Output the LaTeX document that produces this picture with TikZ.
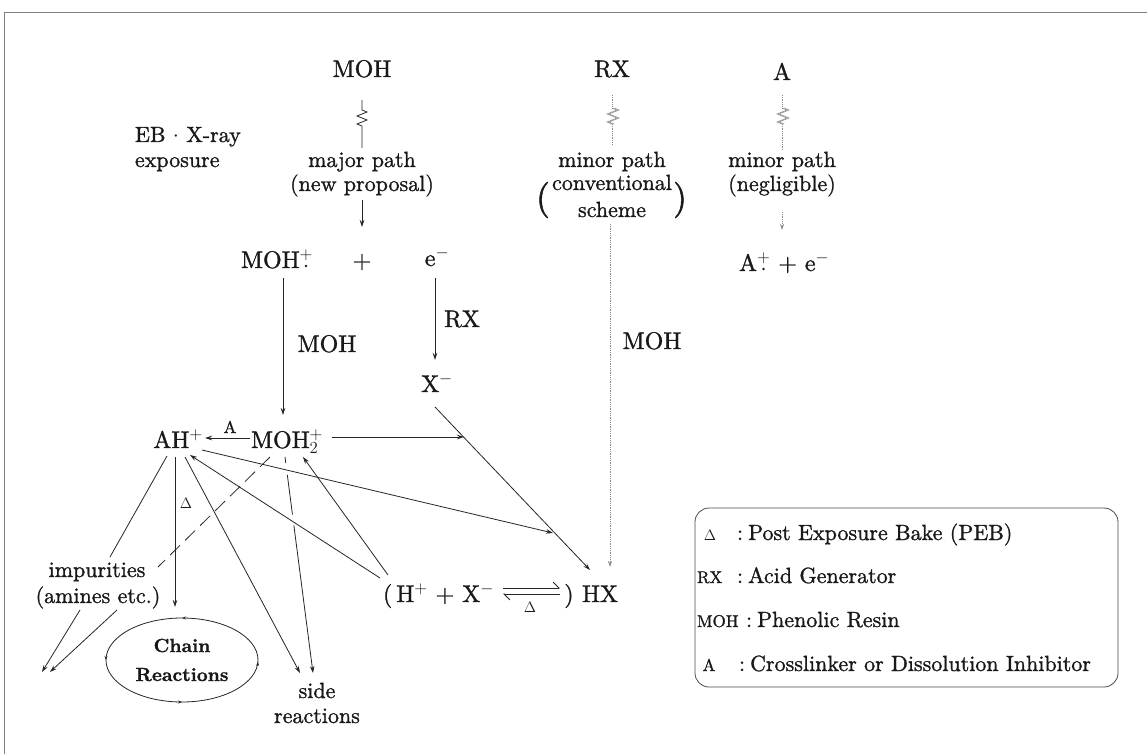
\RequirePackage{fix-cm}
\documentclass[tikz,border=0pt]{standalone}
\usepackage{fontspec}
\setmainfont{lmroman10-regular}[Extension=.otf, BoldFont=lmroman10-bold, ItalicFont=lmroman10-italic, FakeBold=1.2]
\usetikzlibrary{arrows.meta,decorations.markings,calc}
\newcommand\fBig{\fontsize{24}{28}\selectfont}
\newcommand\fMed{\fontsize{22}{25}\selectfont}
\newcommand\fSm{\fontsize{15}{18}\selectfont}
\newcommand\fLeg{\fontsize{17}{20}\selectfont}
\newcommand\fPar{\fontsize{36}{40}\selectfont}
\newcommand\fChain{\bfseries\fontsize{19}{29}\selectfont}
\begin{document}
\begin{tikzpicture}[x=1pt,y=-1pt,
  every node/.style={inner sep=0pt, outer sep=0pt, text=black!90},
  big/.style={font=\fBig, anchor=base},
  med/.style={font=\fMed, anchor=base},
  sm/.style={font=\fSm, anchor=base},
  ln/.style={line width=0.8pt, draw=black!85},
  arr/.style={ln, -{Stealth[length=7pt,width=4.5pt]}},
  dot/.style={line width=0.8pt, draw=black!45, densely dotted},
  darr/.style={dot, -{Stealth[length=6pt,width=4pt]}},
  zz/.style={line width=0.6pt, draw=black!45},
  dsh/.style={ln, dash pattern=on 14pt off 7pt},
  dsharr/.style={ln, dash pattern=on 6pt off 12pt on 40pt off 11pt on 400pt, -{Stealth[length=7pt,width=4.5pt]}},
  frame/.style={line width=0.8pt, draw=black!50},
  harp/.style={ln, -{Straight Barb[left,length=6pt]}},
  raddot/.style={fill=black!90}
]
\useasboundingbox (0,0) rectangle (1147,754);
\fill[white] (0,0) rectangle (1147,754);
\draw[frame] (4,754) -- (4,12) -- (1147,12);

% ---- top row
\node[big] (mohT) at (362,77) {MOH};
\node[big] (rxT) at (612,77) {RX};
\node[big] (aT) at (782,80) {A};
\node[med, anchor=base west] (eb1) at (135,142) {EB $\cdot$ X-ray};
\node[med, anchor=base west] (eb2) at (135,167) {exposure};
\node[med] (maj1) at (362,167) {major path};
\node[med] (maj2) at (362,191) {(new proposal)};
\node[med] (min1) at (612,167) {minor path};
\node[med] (conv) at (612,190) {conventional};
\node[med] (sch) at (612,217) {scheme};
\node[font=\fPar] (lpar) at (543,200) {(};
\node[font=\fPar] (rpar) at (680,200) {)};
\node[med] (neg1) at (782,167) {minor path};
\node[med] (neg2) at (782,191) {(negligible)};

\node[big] (mohp) at (277,268) {MOH$^{+}$};
\fill[raddot] ([shift={(-7,-2)}]mohp.base east) circle (1.3pt);
\node[big] (plus) at (362,268) {+};
\node[big] (em) at (437,266) {e$^-$};
\node[big, anchor=base west] (aplus) at (739,271) {A$^{+}$ + e$^-$};
\fill[raddot] ([shift={(24.5,-2)}]aplus.base west) circle (1.3pt);

\node[big] (xm) at (437,392) {X$^-$};
\node[big] (ah) at (178,448) {AH$^+$};
\node[big] (moh2) at (287,448) {MOH$_2^+$};
\node[big, anchor=base west] (hp) at (383,602) {(\,H$^+$ + X$^-$};
\node[big] (rp) at (569,602) {)};
\node[big] (hx) at (600,602) {HX};

\node[big] (lmoh) at (327,352) {MOH};
\node[big] (lrx) at (462,327) {RX};
\node[big] (lmoh3) at (652,349) {MOH};
\node[font=\fLeg, anchor=base] (la) at (230,433) {A};
\node[sm] (ld1) at (186,508) {$\Delta$};
\node[sm] (ld2) at (530,612) {$\Delta$};

\node[med] (imp1) at (97,577) {impurities};
\node[med] (imp2) at (98,603) {(amines etc.)};
\node[font=\fChain, align=center] (chain) at (182,660) {Chain\\Reactions};
\node[med] (side1) at (317,698) {side};
\node[med] (side2) at (317,723) {reactions};

% ---- legend
\node[draw=black!70, line width=0.8pt, rounded corners=14pt, minimum width=423pt, minimum height=179pt] (leg) at (906.5,597.5) {};
\node[font=\fSm, anchor=base] (k1) at (710,540) {$\Delta$};
\node[font=\fMed, anchor=base west] (v1) at (737,540) {:\hspace{5pt}Post Exposure Bake (PEB)};
\node[font=\fLeg, anchor=base west] (k2) at (697,583) {RX};
\node[font=\fMed, anchor=base west] (v2) at (737,583) {:\hspace{5pt}Acid Generator};
\node[font=\fLeg, anchor=base west] (k3) at (697,627) {MOH};
\node[font=\fMed, anchor=base west] (v3) at (746,627) {:\hspace{5pt}Phenolic Resin};
\node[font=\fLeg, anchor=base] (k4) at (709,671) {A};
\node[font=\fMed, anchor=base west] (v4) at (739,671) {:\hspace{5pt}Crosslinker or Dissolution Inhibitor};

% ---- squiggles
\draw[ln] ([shift={(0,23)}]mohT.base) -- ++(0,10) -- ++(5,2) -- ++(-10,4) -- ++(10,4) -- ++(-10,4) -- ++(5,2) -- ([shift={(0,-19)}]maj1.base);
\draw[arr] ([shift={(0,9)}]maj2.base) -- ([shift={(0,-41)}]plus.base);

\draw[dot] ([shift={(0,18)}]rxT.base) -- ++(0,13) coordinate (rz1);
\draw[zz] (rz1) -- ++(5,2) -- ++(-10,4) -- ++(10,4) -- ++(-10,4) -- ++(5,2) coordinate (rz2);
\draw[zz] ([xshift=2pt]rz1) -- ++(5,2) -- ++(-10,4) -- ++(10,4) -- ++(-10,4) -- ++(5,2);
\draw[dot] (rz2) -- ([shift={(0,-22)}]min1.base);
\draw[darr] ([shift={(-2,7)}]sch.base) -- ([shift={(10,-35)}]hx.base);

\draw[dot] ([shift={(0,15)}]aT.base) -- ++(0,13) coordinate (az1);
\draw[zz] (az1) -- ++(5,2) -- ++(-10,4) -- ++(10,4) -- ++(-10,4) -- ++(5,2) coordinate (az2);
\draw[zz] ([xshift=2pt]az1) -- ++(5,2) -- ++(-10,4) -- ++(10,4) -- ++(-10,4) -- ++(5,2);
\draw[dot] (az2) -- ([shift={(0,-17)}]neg1.base);
\draw[darr] ([shift={(0,21)}]neg2.base) -- ([shift={(43,-41)}]aplus.base west);

% ---- main connectors
\draw[arr] ([shift={(6,10)}]mohp.base) -- ([shift={(-4,-33)}]moh2.base);
\draw[arr] ([shift={(-2,12)}]em.base) -- ([shift={(-2,-32)}]xm.base);
\draw[arr] ([shift={(-37,-10)}]moh2.base) -- ([shift={(27,-10)}]ah.base);
\draw[arr] ([shift={(-2,15)}]xm.base) -- ([shift={(-10,-32)}]hx.base);
\coordinate (j1) at (464,437);
\draw[arr] ([shift={(45,-11)}]moh2.base) -- (j1);
\coordinate (j2) at (553,533);
\draw[arr] ([shift={(24,2)}]ah.base) -- (j2);
\draw[ln] ([shift={(-11,8)}]ah.base) -- ([shift={(13,-20)}]imp1.base);
\draw[arr] ([shift={(-3,9)}]ah.base) -- ([shift={(-7,-53)}]chain.center);
\draw[arr] ([shift={(7,9)}]ah.base) -- ([shift={(-17,-25)}]side1.base);
\draw[arr] ([shift={(-3,-24)}]hp.base west) -- ([shift={(12,7)}]ah.base);
\draw[arr] ([shift={(5,-27)}]hp.base west) -- ([shift={(16,9)}]moh2.base);
\draw[dsh] ([shift={(-17,9)}]moh2.base) -- ([shift={(61,-10)}]imp1.base);
\draw[dsharr] ([shift={(-2,9)}]moh2.base) -- ([shift={(-4,-25)}]side1.base);
\coordinate (o1) at (42,672);
\coordinate (o2) at (50,672);
\draw[arr] ([shift={(-18,7)}]imp2.base) -- (o1);
\draw[arr] ([shift={(19,7)}]imp2.base) -- (o2);

% equilibrium
\draw[harp] ([shift={(120,-14)}]hp.base west) -- ([shift={(-9,-14)}]rp.base);
\draw[harp] ([shift={(-9,-8)}]rp.base) -- ([shift={(120,-8)}]hp.base west);

% chain ellipse
\draw[ln, postaction={decorate}, decoration={markings,
  mark=at position 0.25 with {\arrow{Stealth[length=4pt,width=3pt]}},
  mark=at position 0.5 with {\arrow{Stealth[length=4pt,width=3pt]}},
  mark=at position 0.75 with {\arrow{Stealth[length=4pt,width=3pt]}},
  mark=at position 0.995 with {\arrow{Stealth[length=4pt,width=3pt]}}}]
  (chain.center) ellipse [x radius=76pt, y radius=42pt];
\end{tikzpicture}
\end{document}
